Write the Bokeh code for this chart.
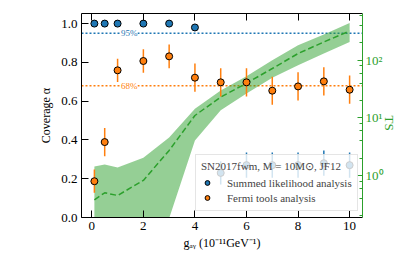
import math
import numpy as np
from bokeh.plotting import figure
from bokeh.models import (Range1d, LogScale, LogAxis, LinearAxis, Span, Label,
                          Legend, LegendItem, FixedTicker, NumeralTickFormatter,
                          CustomJSTickFormatter, CustomLabelingPolicy)
from bokeh.embed import file_html
from bokeh.resources import INLINE

# ---- data ----
g_values = [0.1, 0.5, 1, 2, 3, 4, 5, 6, 7, 8, 9, 10]
summed_cov = [1.0, 1.0, 1.0, 1.0, 1.0, 0.98, 0.23, 0.27, 0.27, 0.27, 0.28, 0.27]
summed_err = [0, 0, 0, 0, 0, 0, 0.06, 0.065, 0.065, 0.065, 0.065, 0.065]
fermi_cov = [0.187, 0.389, 0.759, 0.807, 0.831, 0.721, 0.697, 0.697, 0.654, 0.676, 0.702, 0.659]
fermi_err = [0.06, 0.073, 0.06, 0.061, 0.061, 0.073, 0.073, 0.073, 0.072, 0.073, 0.073, 0.073]
ts_median = [0.378, 0.50, 0.449, 0.82, 2.72, 11.0, 23, 40, 72, 131, 208, 323]
ts_upper = [1.43, 1.55, 1.38, 2.03, 4.58, 14.4, 30, 52.7, 100, 182, 282, 446]
ts_lower = [1e-6, 1e-6, 1e-6, 1e-6, 0.18, 4.06, 13.5, 26.5, 50, 82, 131, 208]
level_95 = 0.95
level_68 = 0.68
x_ticks = [0, 2, 4, 6, 8, 10]
y_ticks = [0.0, 0.2, 0.4, 0.6, 0.8, 1.0]

BLUE = "#1f77b4"
ORANGE = "#ff7f0e"
GREEN = "#2ca02c"
FONT = "Liberation Serif"

p = figure(width=407, height=271, x_range=Range1d(-0.4, 10.5), y_range=Range1d(0, 1.052),
           output_backend="svg", toolbar_location=None,
           min_border_left=81, min_border_right=40, min_border_top=13, min_border_bottom=54)
p.outline_line_color = None
p.grid.visible = False
p.background_fill_color = "white"

p.extra_y_scales = {"ts": LogScale()}
p.extra_y_ranges = {"ts": Range1d(0.186, 650)}

# TS band + median
p.varea(x=g_values, y1=ts_lower, y2=ts_upper, y_range_name="ts",
        fill_color=GREEN, fill_alpha=0.5)
p.line(x=g_values, y=ts_median, y_range_name="ts", line_color=GREEN,
       line_width=1.5, line_dash="6 3")

# reference lines
p.add_layout(Span(location=level_95, dimension="width", line_color=BLUE,
                  line_dash="2 2", line_width=1.5, level="underlay"))
p.add_layout(Span(location=level_68, dimension="width", line_color=ORANGE,
                  line_dash="2 2", line_width=1.5, level="underlay"))
p.add_layout(Label(x=1.13, y=level_95, text="95%", text_color=BLUE, text_font=FONT,
                   text_font_size="9px", text_baseline="middle",
                   background_fill_color="white"))
p.add_layout(Label(x=1.13, y=level_68, text="68%", text_color=ORANGE, text_font=FONT,
                   text_font_size="9px", text_baseline="middle",
                   background_fill_color="white"))

sc = np.array(summed_cov); se = np.array(summed_err)
fc = np.array(fermi_cov); fe = np.array(fermi_err)
p.segment(x0=g_values, y0=sc - se, x1=g_values, y1=sc + se, line_color=BLUE, line_width=1.5)
r_blue = p.scatter(x=g_values, y=summed_cov, size=7, fill_color=BLUE, line_color="black", line_width=1)
p.segment(x0=g_values, y0=fc - fe, x1=g_values, y1=fc + fe, line_color=ORANGE, line_width=1.5)
r_orange = p.scatter(x=g_values, y=fermi_cov, size=7, fill_color=ORANGE, line_color="black", line_width=1)

# axes
def style(ax, color="black"):
    ax.axis_line_color = color
    ax.major_tick_line_color = color
    ax.minor_tick_line_color = color
    ax.major_label_text_color = color
    ax.axis_label_text_color = color
    ax.major_label_text_font = FONT
    ax.major_label_text_font_size = "13px"
    ax.axis_label_text_font = FONT
    ax.axis_label_text_font_size = "12px"
    ax.axis_label_text_font_style = "normal"
    ax.major_tick_in = 7
    ax.major_tick_out = 0
    ax.minor_tick_in = 0
    ax.minor_tick_out = 0

xa = p.xaxis[0]
style(xa)
xa.ticker = FixedTicker(ticks=x_ticks)
xa.axis_label = "gₐᵧ (10⁻¹¹GeV⁻¹)"
xa.major_label_standoff = 4
xa.axis_label_standoff = 3

ya = p.yaxis[0]
style(ya)
ya.ticker = FixedTicker(ticks=y_ticks)
ya.formatter = NumeralTickFormatter(format="0.0")
ya.axis_label = "Coverage α"
ya.major_label_standoff = 4
ya.axis_label_standoff = 5

top = LinearAxis(ticker=FixedTicker(ticks=x_ticks))
style(top)
top.major_label_standoff = 0
top.major_label_policy = CustomLabelingPolicy(
    code="for (const i of indices) { indices.unset(i) }\nreturn indices")
p.add_layout(top, "above")

ra = LogAxis(y_range_name="ts", axis_label="TS")
style(ra, GREEN)
ra.ticker.desired_num_ticks = 3
ra.formatter = CustomJSTickFormatter(
    code="const e = Math.round(Math.log10(tick)); const s = ['⁰','¹','²','³']; return '10' + s[e];")
ra.major_tick_in = 5
ra.minor_tick_in = 3
ra.major_label_standoff = 3
ra.axis_label_standoff = 3
ra.axis_label_text_font_size = "13px"
ra.axis_label_orientation = -math.pi / 2
p.add_layout(ra, "right")

legend = Legend(items=[LegendItem(label="Summed likelihood analysis", renderers=[r_blue]),
                       LegendItem(label="Fermi tools analysis", renderers=[r_orange])],
                title="SN2017fwm, M = 10M⊙, JF12", location=(114, 6))
legend.label_text_font = FONT
legend.label_text_font_size = "11px"
legend.title_text_font = FONT
legend.title_text_font_size = "11px"
legend.title_text_font_style = "normal"
legend.background_fill_alpha = 0.8
legend.border_line_color = "#cccccc"
legend.padding = 5
legend.spacing = 0
legend.margin = 0
legend.label_height = 15
legend.glyph_height = 15
legend.glyph_width = 12
legend.label_standoff = 14
legend.title_standoff = 2
p.add_layout(legend)

open("out.html", "w").write(file_html(p, INLINE))
